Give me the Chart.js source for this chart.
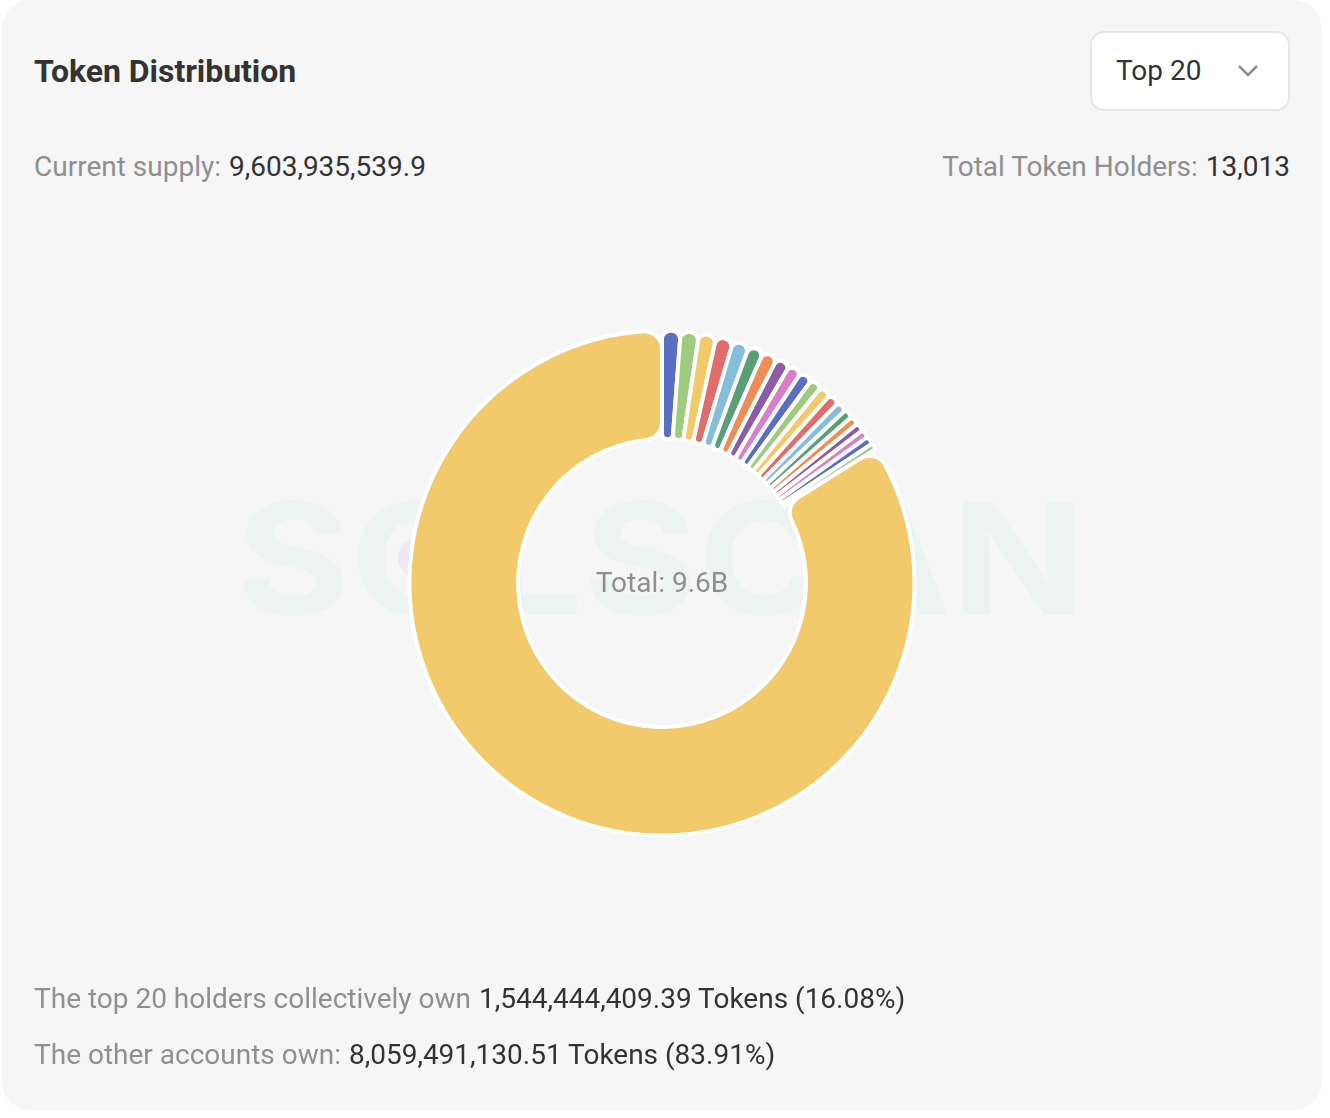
<!DOCTYPE html>
<html>
<head>
<meta charset="utf-8">
<title>Token Distribution</title>
<script src="https://cdn.jsdelivr.net/npm/chart.js@4"></script>
<style>
    html, body { margin: 0; padding: 0; background: #fff; }
    body { width: 1330px; height: 1118px; position: relative; overflow: hidden; font-family: Roboto, sans-serif; }
    .card { position: absolute; left: 2px; top: 0; width: 1320px; height: 1110px; background: #f6f6f6; border-radius: 28px; overflow: hidden; }
    .abs { position: absolute; white-space: nowrap; line-height: 36px; font-size: 28px; color: #8f8f8f; }
    .abs b { font-weight: 400; color: #333; margin-left: 1px; }
    .title { left: 32px; top: 53px; font-size: 32px; font-weight: 700; color: #333; letter-spacing: -0.05px; }
    .select { position: absolute; left: 1088px; top: 31px; width: 196px; height: 76px; background: #fff; border: 2px solid #e6e6e6; border-radius: 14px; }
    .select span { position: absolute; left: 24px; top: 20px; font-size: 28px; line-height: 36px; color: #333; }
    .select svg { position: absolute; left: 145px; top: 31px; }
    .watermark { position: absolute; left: 234px; top: 473px; font: 700 155px Inter, sans-serif; line-height: 170px; color: #ecf4f1; white-space: nowrap; transform: scaleX(1.125); transform-origin: left center; }
    .dot { position: absolute; left: 396px; top: 537px; width: 42px; height: 42px; border-radius: 50%; background: #f0e8f4; }
    .chart-box { position: absolute; left: 120px; top: 43px; width: 1080px; height: 1080px; }
    .total { position: absolute; left: 460px; width: 400px; top: 565px; text-align: center; font-size: 28px; line-height: 36px; color: #8f8f8f; }
</style>
</head>
<body>
<div class="card">
    <div class="watermark">SOLSCAN</div>
    <div class="dot"></div>
    <div class="abs title">Token Distribution</div>
    <div class="select">
        <span>Top 20</span>
        <svg width="22" height="14" viewBox="0 0 22 14"><path d="M2 2 L11 11 L20 2" fill="none" stroke="#8f8f8f" stroke-width="2.6"/></svg>
    </div>
    <div class="abs" style="left:32px;top:149px">Current supply: <b>9,603,935,539.9</b></div>
    <div class="abs" style="right:32px;top:149px">Total Token Holders: <b>13,013</b></div>
    <div class="chart-box"><canvas id="tokenChart" width="1080" height="1080"></canvas></div>
    <div class="total">Total: 9.6B</div>
    <div class="abs" style="left:32px;top:981px">The top 20 holders collectively own <b>1,544,444,409.39 Tokens (16.08%)</b></div>
    <div class="abs" style="left:32px;top:1037px">The other accounts own: <b>8,059,491,130.51 Tokens (83.91%)</b></div>
</div>

<script>
const holderRanks = ['#1', '#2', '#3', '#4', '#5', '#6', '#7', '#8', '#9', '#10',
    '#11', '#12', '#13', '#14', '#15', '#16', '#17', '#18', '#19', '#20', 'Others'];
const holderShares = [1.18, 1.17, 1.11, 1.10, 1.06, 0.97, 0.96, 0.90, 0.85, 0.81,
    0.75, 0.75, 0.72, 0.64, 0.58, 0.56, 0.53, 0.53, 0.51, 0.40, 83.91];
const palette = ['#5a6fc4', '#9ecb7e', '#f2c96b', '#e06c6c', '#85bedc', '#59a077', '#f08c55', '#8d5ca8', '#db7ec8'];
const sliceColors = holderRanks.map(function (_, i) {
    return i === holderRanks.length - 1 ? '#f2c96b' : palette[i % palette.length];
});

document.addEventListener('DOMContentLoaded', function () {
    const ctx = document.getElementById('tokenChart').getContext('2d');
    new Chart(ctx, {
        type: 'doughnut',
        data: {
            labels: holderRanks,
            datasets: [{
                data: holderShares,
                backgroundColor: sliceColors,
                borderColor: '#ffffff',
                borderWidth: 4,
                borderRadius: 18
            }]
        },
        options: {
            responsive: false,
            animation: false,
            radius: 252.5,
            cutout: '57%',
            plugins: {
                legend: { display: false },
                tooltip: { enabled: false }
            }
        }
    });
});
</script>
</body>
</html>
